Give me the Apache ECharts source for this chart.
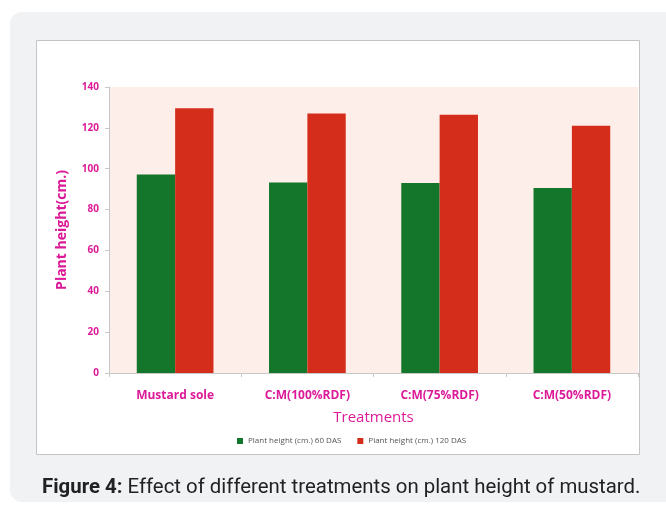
<!DOCTYPE html>
<html>
<head>
<meta charset="utf-8">
<script src="https://cdn.jsdelivr.net/npm/echarts@6/dist/echarts.min.js"></script>
<style>
  html, body { margin: 0; padding: 0; background: #ffffff; }
  #chart { width: 666px; height: 506px; }
</style>
</head>
<body>
<div id="chart"></div>
<script>
// Treatments along the x axis
const categories = ['Mustard sole', 'C:M(100%RDF)', 'C:M(75%RDF)', 'C:M(50%RDF)'];
// Plant height (cm.) at 60 and 120 days after sowing
const height60DAS = [97.2, 93.3, 93.0, 90.6];
const height120DAS = [129.6, 127.0, 126.4, 121.0];
const seriesNames = ['Plant height (cm.) 60 DAS', 'Plant height (cm.) 120 DAS'];
// Y-axis scale
const yMin = 0, yMax = 140, yStep = 20;

const magenta = '#dc1a98';
const chart = echarts.init(document.getElementById('chart'), null, { renderer: 'canvas' });

chart.setOption({
  backgroundColor: '#ffffff',
  animation: false,
  graphic: [
    { type: 'rect', z: -10, shape: { x: 10, y: 12, width: 700, height: 490, r: 12 },
      style: { fill: '#f1f2f4' } },
    { type: 'rect', z: -9, shape: { x: 36.5, y: 40.5, width: 603, height: 414 },
      style: { fill: '#ffffff', stroke: '#c4c4c4', lineWidth: 1 } },
    { type: 'text', left: 42, top: 478, z: 5,
      style: {
        text: '{b|Figure 4:} Effect of different treatments on plant height of mustard.',
        rich: {
          b: { fontFamily: 'Roboto', fontSize: 20.4, fontWeight: 'bold', fill: '#222222' }
        },
        fontFamily: 'Roboto', fontSize: 20.4, fill: '#222222'
      } }
  ],
  grid: {
    left: 109, top: 87, width: 529, height: 286,
    show: true, backgroundColor: '#fdeee9', borderWidth: 0
  },
  legend: {
    top: 432, left: 232,
    itemWidth: 6, itemHeight: 6, itemGap: 16,
    icon: 'rect',
    textStyle: { fontSize: 8, color: '#555555', fontFamily: 'Open Sans' },
    data: seriesNames
  },
  xAxis: {
    type: 'category',
    data: categories,
    axisLine: { lineStyle: { color: '#c8c8c8' } },
    axisTick: { show: true, length: 4, lineStyle: { color: '#c8c8c8' } },
    axisLabel: { color: magenta, fontWeight: 'bold', fontSize: 12, margin: 17, fontFamily: 'Open Sans' },
    name: 'Treatments',
    nameLocation: 'middle',
    nameGap: 37,
    nameTextStyle: { color: magenta, fontSize: 15, fontFamily: 'Open Sans' }
  },
  yAxis: {
    type: 'value',
    min: yMin, max: yMax, interval: yStep,
    axisLine: { show: true, lineStyle: { color: '#c8c8c8' } },
    axisTick: { show: true, length: 4, lineStyle: { color: '#c8c8c8' } },
    splitLine: { show: false },
    axisLabel: { color: magenta, fontWeight: 'bold', fontSize: 10, margin: 10, fontFamily: 'Open Sans' },
    name: 'Plant height(cm.)',
    nameLocation: 'middle',
    nameGap: 40,
    nameTextStyle: { color: magenta, fontSize: 14, fontWeight: 'bold', fontFamily: 'Open Sans' }
  },
  series: [
    { name: seriesNames[0], type: 'bar', data: height60DAS,
      barGap: '0%', barCategoryGap: '42%',
      itemStyle: { color: '#13762b' } },
    { name: seriesNames[1], type: 'bar', data: height120DAS,
      barGap: '0%', barCategoryGap: '42%',
      itemStyle: { color: '#d52d1b' } }
  ]
});
</script>
</body>
</html>
